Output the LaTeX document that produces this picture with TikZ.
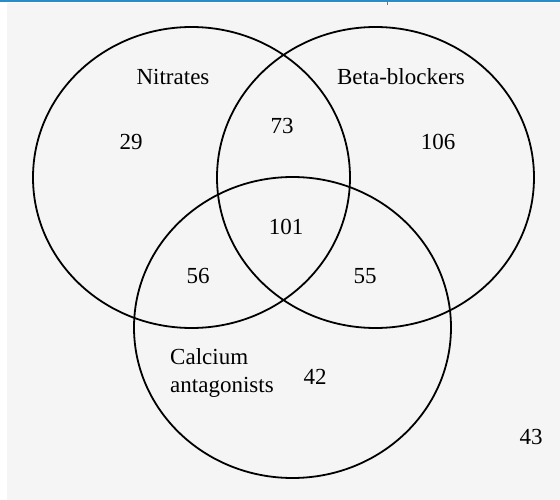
\documentclass[tikz,border=0pt]{standalone}
\usepackage{fontspec}
\setmainfont{Liberation Serif}
\usetikzlibrary{shapes.geometric}
\definecolor{rulebar}{RGB}{40,140,200}
\tikzstyle{set} = [ellipse, draw, line width=1.8pt, inner sep=0pt,
    minimum width=317pt, minimum height=301pt]
\tikzstyle{count} = [inner sep=0pt, font=\fontsize{23}{28}\selectfont]
\tikzstyle{setname} = [inner sep=0pt, font=\fontsize{23}{28}\selectfont, align=left]

\begin{document}
\begin{tikzpicture}[x=1pt, y=-1pt]
      \useasboundingbox (0,0) rectangle (560,500);
      \fill [white] (0,0) rectangle (560,500);
      \fill [black!4] (7,3) rectangle (560,500);
      \draw [line width=2pt, rulebar] (0,1) -- (560,1);
      \draw [line width=1pt, rulebar] (387,1) -- (387,5);
      % Sets
      \node [set] (nitr) at (191.5,177.5) {};
      \node [set] (beta) at (375.5,177.5) {};
      \node [set] (calc) at (292.5,327.5) {};
      % Set names
      \node [setname] (nitrlabel) at (173,77) {Nitrates};
      \node [setname] (betalabel) at (401,77) {Beta-blockers};
      \node [setname, anchor=west] (calclabel) at (170,373) {Calcium\\antagonists};
      % Counts
      \node [count] (n) at (131,142) {29};
      \node [count] (nb) at (282,126) {73};
      \node [count] (b) at (438,142) {106};
      \node [count] (nbc) at (286,227) {101};
      \node [count] (nc) at (198,276) {56};
      \node [count] (bc) at (365,276) {55};
      \node [count] (c) at (315,377) {42};
      \node [count] (none) at (531,437) {43};
  \end{tikzpicture}
\end{document}
